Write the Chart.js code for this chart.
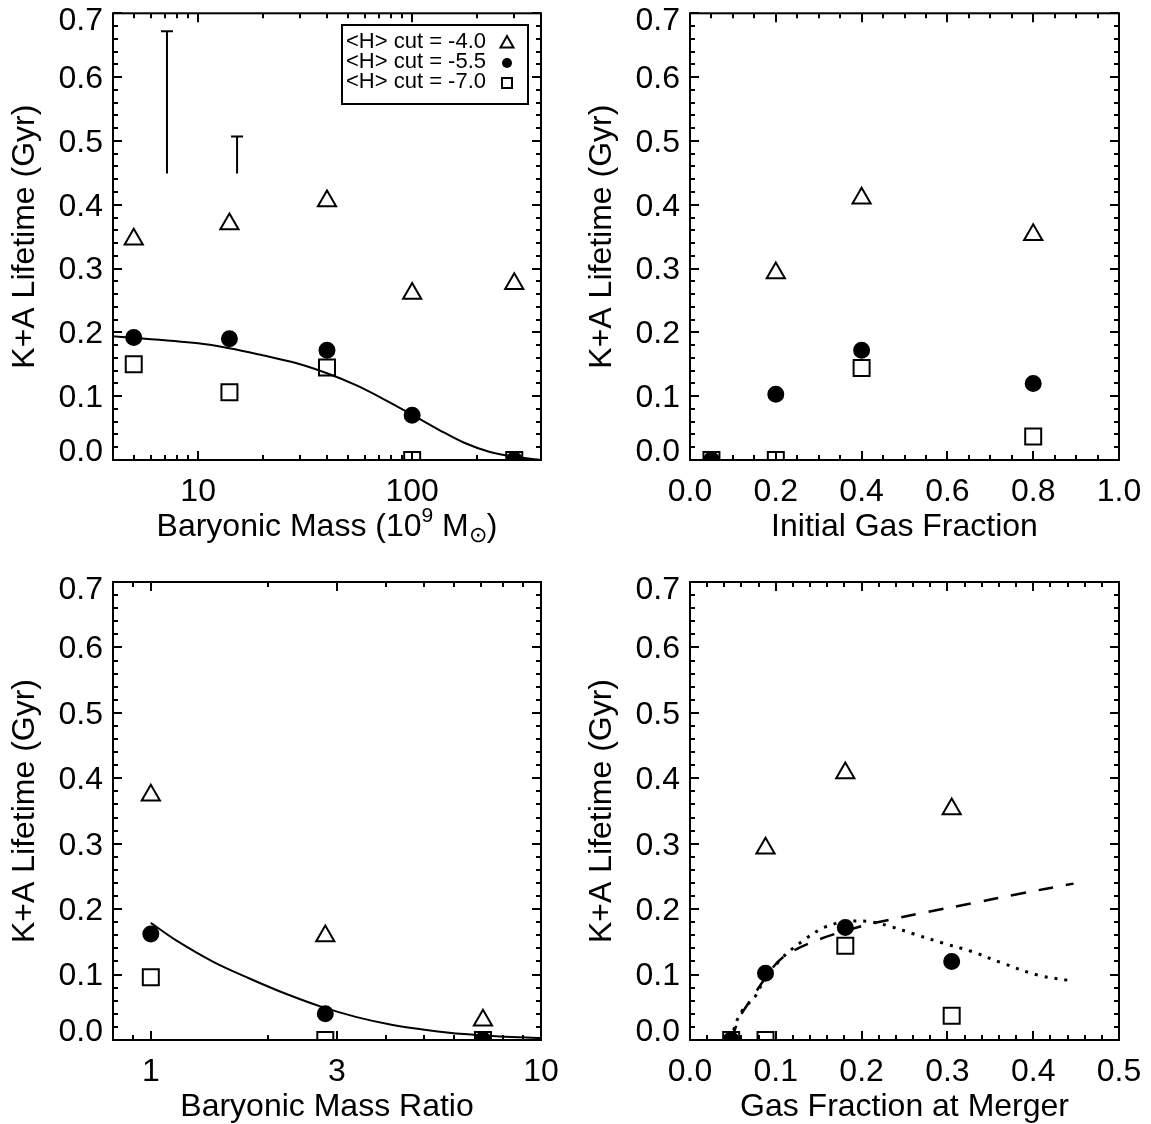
<!DOCTYPE html>
<html>
<head>
<meta charset="utf-8">
<script src="https://cdn.jsdelivr.net/npm/chart.js@4.4.1/dist/chart.umd.min.js"></script>
<style>
html, body { margin: 0; padding: 0; background: #fff; }
#wrap { position: relative; width: 1151px; height: 1124px; overflow: hidden; }
#wrap canvas { position: absolute; left: 0; top: 0; }
</style>
</head>
<body>
<div id="wrap">
  <canvas id="c1" width="1151" height="1124"></canvas>
  <canvas id="c2" width="1151" height="1124"></canvas>
  <canvas id="c3" width="1151" height="1124"></canvas>
  <canvas id="c4" width="1151" height="1124"></canvas>
</div>
<script>
// K+A lifetime vs. merger properties, three <H> cuts per panel

// shared y axis
const yMajor = [0, 0.1, 0.2, 0.3, 0.4, 0.5, 0.6, 0.7];
const yLabels = ['0.0', '0.1', '0.2', '0.3', '0.4', '0.5', '0.6', '0.7'];
const yMinor = [0.02, 0.04, 0.06, 0.08, 0.12, 0.14, 0.16, 0.18, 0.22, 0.24, 0.26, 0.28,
  0.32, 0.34, 0.36, 0.38, 0.42, 0.44, 0.46, 0.48, 0.52, 0.54, 0.56, 0.58, 0.62, 0.64, 0.66, 0.68];

// panel 1: baryonic mass (1e9 Msun)
const massX = [5, 14, 40, 100, 300];
const massTri = [0.346, 0.370, 0.406, 0.261, 0.276];
const massCirc = [0.192, 0.190, 0.172, 0.070, 0.0];
const massSq = [0.150, 0.106, 0.145, 0.0, 0.0];
const massFitX = [4, 10, 14, 20, 28.6, 40, 55, 75, 100, 134, 175, 229, 300, 400];
const massFitY = [0.194, 0.183, 0.175, 0.164, 0.152, 0.136, 0.117, 0.094, 0.071, 0.047, 0.027, 0.013, 0.005, 0.0];
const errBarX = [7.15, 15.2];
const errBarLo = [0.449, 0.449];
const errBarHi = [0.672, 0.507];
const massTicks = [10, 100];
const massTickLabels = ['10', '100'];
const massMinor = [5, 6, 7, 8, 9, 20, 30, 40, 50, 60, 70, 80, 90, 200, 300];

// panel 2: initial gas fraction
const gasX = [0.05, 0.2, 0.4, 0.8];
const gasTri = [null, 0.293, 0.410, 0.353];
const gasCirc = [0.0, 0.103, 0.172, 0.120];
const gasSq = [0.0, 0.0, 0.144, 0.037];
const gasTicks = [0, 0.2, 0.4, 0.6, 0.8, 1.0];
const gasTickLabels = ['0.0', '0.2', '0.4', '0.6', '0.8', '1.0'];
const gasMinor = [0.05, 0.1, 0.15, 0.25, 0.3, 0.35, 0.45, 0.5, 0.55, 0.65, 0.7, 0.75, 0.85, 0.9, 0.95];

// panel 3: baryonic mass ratio
const ratioX = [1, 2.8, 7.1];
const ratioTri = [0.374, 0.159, 0.030];
const ratioCirc = [0.162, 0.040, 0.0];
const ratioSq = [0.096, 0.0, 0.0];
const ratioFitX = [1, 1.17, 1.45, 1.79, 2.21, 2.73, 3.37, 4.17, 5.14, 6.35, 7.85, 10];
const ratioFitY = [0.179, 0.151, 0.119, 0.094, 0.071, 0.051, 0.035, 0.023, 0.015, 0.009, 0.0055, 0.003];
const ratioTicks = [1, 3, 10];
const ratioTickLabels = ['1', '3', '10'];
const ratioMinor = [0.9, 2, 4, 5, 6, 7, 8, 9];

// panel 4: gas fraction at merger
const mergX = [0.048, 0.088, 0.181, 0.305];
const mergTri = [null, 0.293, 0.408, 0.353];
const mergCirc = [0.0, 0.102, 0.172, 0.120];
const mergSq = [0.0, 0.0, 0.144, 0.037];
const dashX = [0.048, 0.052, 0.058, 0.065, 0.075, 0.088, 0.107, 0.145, 0.2, 0.226, 0.278, 0.329, 0.38, 0.447];
const dashY = [0.0, 0.015, 0.035, 0.05, 0.07, 0.095, 0.125, 0.151, 0.174, 0.182, 0.196, 0.209, 0.2225, 0.239];
const dotX = [0.048, 0.051, 0.054, 0.062, 0.0757, 0.085, 0.107, 0.132, 0.158, 0.184, 0.209, 0.235, 0.261, 0.295, 0.329, 0.363, 0.406, 0.442];
const dotY = [0.0, 0.015, 0.028, 0.047, 0.066, 0.088, 0.125, 0.152, 0.173, 0.181, 0.181, 0.173, 0.162, 0.148, 0.135, 0.118, 0.099, 0.091];
const mergTicks = [0, 0.1, 0.2, 0.3, 0.4, 0.5];
const mergTickLabels = ['0.0', '0.1', '0.2', '0.3', '0.4', '0.5'];
const mergMinor = [0.02, 0.04, 0.06, 0.08, 0.12, 0.14, 0.16, 0.18, 0.22, 0.24, 0.26, 0.28,
  0.32, 0.34, 0.36, 0.38, 0.42, 0.44, 0.46, 0.48];

const legendLabels = ['<H> cut = -4.0', '<H> cut = -5.5', '<H> cut = -7.0'];
const yTitle = 'K+A Lifetime (Gyr)';

const W = 1151, H = 1124;
const FONT = '"Liberation Sans", Arial, Helvetica, sans-serif';
const TICK_PX = 32;

function pts(xs, ys) {
  return xs.map((x, i) => ({ x: x, y: ys[i] })).filter(p => p.y !== null);
}

function markers(xs, ys, style, radius, filled) {
  return {
    data: pts(xs, ys),
    showLine: false,
    pointStyle: style,
    pointRadius: radius,
    pointHoverRadius: radius,
    pointBorderWidth: 2,
    pointBorderColor: '#000',
    pointBackgroundColor: filled ? '#000' : 'rgba(0,0,0,0)',
    clip: 0
  };
}

function curve(xs, ys, dash, width) {
  return {
    data: pts(xs, ys),
    showLine: true,
    pointRadius: 0,
    borderColor: '#000',
    borderWidth: width || 2,
    borderDash: dash || [],
    tension: 0.35,
    fill: false,
    clip: 0
  };
}

function errBar(x, lo, hi) {
  return {
    data: [{ x: x, y: lo }, { x: x, y: hi }],
    showLine: true,
    borderColor: '#000',
    borderWidth: 2,
    pointStyle: 'line',
    pointRadius: [0, 6],
    pointBorderWidth: 2,
    pointBorderColor: '#000',
    clip: 0
  };
}

// draws a string made of pieces (for super/subscripts), centred on cx
function drawParts(ctx, parts, cx, cy) {
  let total = 0;
  parts.forEach(p => { ctx.font = p.size + 'px ' + FONT; p.w = ctx.measureText(p.text).width; total += p.w; });
  let x = cx - total / 2;
  ctx.textAlign = 'left';
  ctx.textBaseline = 'middle';
  parts.forEach(p => {
    ctx.font = p.size + 'px ' + FONT;
    ctx.fillText(p.text, x, cy + (p.dy || 0));
    x += p.w;
  });
}

function framePlugin(p) {
  return {
    id: 'frame' + p.id,
    afterDatasetsDraw(chart) {
      const ctx = chart.ctx, a = chart.chartArea;
      const xs = chart.scales.x, ys = chart.scales.y;
      ctx.save();
      ctx.strokeStyle = '#000';
      ctx.fillStyle = '#000';
      ctx.lineWidth = 2;
      ctx.lineCap = 'butt';
      ctx.beginPath();
      const xt = (v, len) => {
        const x = Math.round(xs.getPixelForValue(v));
        ctx.moveTo(x, a.bottom); ctx.lineTo(x, a.bottom - len);
        ctx.moveTo(x, a.top); ctx.lineTo(x, a.top + len);
      };
      const yt = (v, len) => {
        const y = Math.round(ys.getPixelForValue(v));
        ctx.moveTo(a.left, y); ctx.lineTo(a.left + len, y);
        ctx.moveTo(a.right, y); ctx.lineTo(a.right - len, y);
      };
      p.xTicks.forEach(v => xt(v, 9));
      p.xMinor.forEach(v => xt(v, 5));
      yMajor.forEach(v => yt(v, 9));
      yMinor.forEach(v => yt(v, 5));
      ctx.stroke();
      ctx.strokeRect(a.left, a.top, a.right - a.left, a.bottom - a.top);

      // tick labels
      ctx.font = TICK_PX + 'px ' + FONT;
      ctx.textBaseline = 'middle';
      ctx.textAlign = 'center';
      p.xTicks.forEach((v, i) => {
        ctx.fillText(p.xTickLabels[i], xs.getPixelForValue(v), a.bottom + 32);
      });
      ctx.textAlign = 'right';
      yMajor.forEach((v, i) => {
        let y = ys.getPixelForValue(v) + 2;
        if (i === 0) y -= 10;
        if (i === yMajor.length - 1) y += 6;
        ctx.fillText(yLabels[i], a.left - 10, y);
      });

      // axis titles
      drawParts(ctx, p.xTitle, (a.left + a.right) / 2, a.bottom + 67);
      ctx.save();
      ctx.translate(a.left - 88, (a.top + a.bottom) / 2);
      ctx.rotate(-Math.PI / 2);
      ctx.font = TICK_PX + 'px ' + FONT;
      ctx.textAlign = 'center';
      ctx.textBaseline = 'middle';
      ctx.fillText(yTitle, 0, 0);
      ctx.restore();

      if (p.legend) drawLegend(ctx);
      ctx.restore();
    }
  };
}

function drawLegend(ctx) {
  const bx = 342, by = 25, bw = 186, bh = 79;
  ctx.lineWidth = 2;
  ctx.strokeRect(bx, by, bw, bh);
  ctx.font = '22px ' + FONT;
  ctx.textAlign = 'left';
  ctx.textBaseline = 'middle';
  const rows = [42, 62, 82];
  legendLabels.forEach((t, i) => ctx.fillText(t, 346, rows[i]));
  const sx = 507;
  // triangle
  ctx.lineWidth = 2;
  ctx.beginPath();
  ctx.moveTo(sx, rows[0] - 6);
  ctx.lineTo(sx + 6.5, rows[0] + 5.5);
  ctx.lineTo(sx - 6.5, rows[0] + 5.5);
  ctx.closePath();
  ctx.stroke();
  // filled circle
  ctx.beginPath();
  ctx.arc(sx, rows[1] + 1, 5, 0, Math.PI * 2);
  ctx.fill();
  // square
  ctx.strokeRect(sx - 5, rows[2] - 4, 10, 10);
}

function makePanel(p) {
  return new Chart(document.getElementById(p.id), {
    type: 'scatter',
    data: { datasets: p.datasets },
    options: {
      responsive: false,
      animation: false,
      events: [],
      layout: { padding: { left: p.box.l, top: p.box.t, right: W - p.box.r, bottom: H - p.box.b } },
      plugins: { legend: { display: false }, tooltip: { enabled: false } },
      scales: {
        x: { type: p.xType, min: p.xMin, max: p.xMax, display: false },
        y: { type: 'linear', min: 0, max: 0.7, display: false }
      }
    },
    plugins: [framePlugin(p)]
  });
}

function plain(t) { return [{ text: t, size: TICK_PX }]; }

makePanel({
  id: 'c1', box: { l: 113, t: 3, r: 541, b: 460 },
  xType: 'logarithmic', xMin: 4, xMax: 400,
  xTicks: massTicks, xTickLabels: massTickLabels, xMinor: massMinor,
  xTitle: [
    { text: 'Baryonic Mass (10', size: TICK_PX },
    { text: '9', size: 21, dy: -11 },
    { text: ' M', size: TICK_PX },
    { text: '\u2299', size: 22, dy: 9 },
    { text: ')', size: TICK_PX }
  ],
  legend: true,
  datasets: [
    curve(massFitX, massFitY),
    errBar(errBarX[0], errBarLo[0], errBarHi[0]),
    errBar(errBarX[1], errBarLo[1], errBarHi[1]),
    markers(massX, massTri, 'triangle', 10.5, false),
    markers(massX, massSq, 'rect', 11.3, false),
    markers(massX, massCirc, 'circle', 7.5, true)
  ]
});

makePanel({
  id: 'c2', box: { l: 690, t: 3, r: 1119, b: 460 },
  xType: 'linear', xMin: 0, xMax: 1,
  xTicks: gasTicks, xTickLabels: gasTickLabels, xMinor: gasMinor,
  xTitle: plain('Initial Gas Fraction'),
  datasets: [
    markers(gasX, gasTri, 'triangle', 10.5, false),
    markers(gasX, gasSq, 'rect', 11.3, false),
    markers(gasX, gasCirc, 'circle', 7.5, true)
  ]
});

makePanel({
  id: 'c3', box: { l: 113, t: 582, r: 541, b: 1040 },
  xType: 'logarithmic', xMin: 0.8, xMax: 10,
  xTicks: ratioTicks, xTickLabels: ratioTickLabels, xMinor: ratioMinor,
  xTitle: plain('Baryonic Mass Ratio'),
  datasets: [
    curve(ratioFitX, ratioFitY),
    markers(ratioX, ratioTri, 'triangle', 10.5, false),
    markers(ratioX, ratioSq, 'rect', 11.3, false),
    markers(ratioX, ratioCirc, 'circle', 7.5, true)
  ]
});

makePanel({
  id: 'c4', box: { l: 690, t: 582, r: 1119, b: 1040 },
  xType: 'linear', xMin: 0, xMax: 0.5,
  xTicks: mergTicks, xTickLabels: mergTickLabels, xMinor: mergMinor,
  xTitle: plain('Gas Fraction at Merger'),
  datasets: [
    curve(dashX, dashY, [15, 13], 2.5),
    curve(dotX, dotY, [3, 7], 3),
    markers(mergX, mergTri, 'triangle', 10.5, false),
    markers(mergX, mergSq, 'rect', 11.3, false),
    markers(mergX, mergCirc, 'circle', 7.5, true)
  ]
});
</script>
</body>
</html>
